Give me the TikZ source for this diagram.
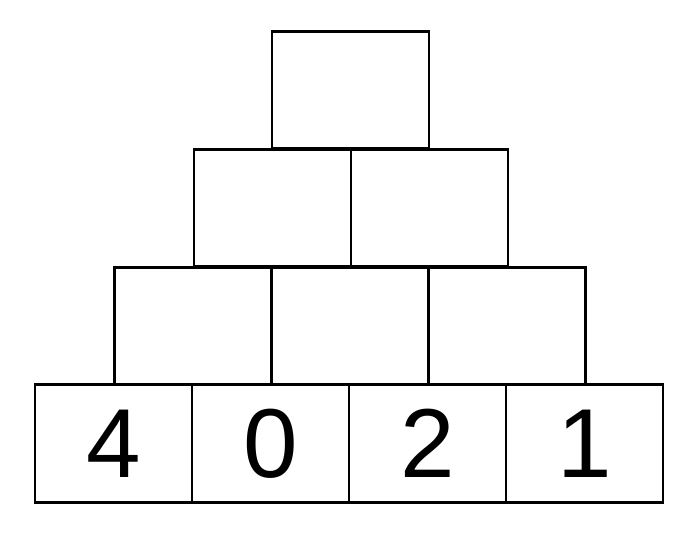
\documentclass[tikz,border=0pt]{standalone}
\usepackage{fontspec}
\setmainfont{Liberation Sans}

\tikzset{
  feld/.style={draw, line width=2.7pt, rectangle, minimum width=157pt, minimum height=117.5pt, inner sep=0pt, outer sep=0pt, font=\fontsize{98}{98}\selectfont}
}

\begin{document}
\begin{tikzpicture}[x=1pt, y=-1pt]
	\useasboundingbox (0, 0) rectangle (699, 535);
	% Unterste Reihe
	\node [feld] (u1) at (113.5, 443.5) {4};
	\node [feld] (u2) at (270.5, 443.5) {0};
	\node [feld] (u3) at (427.5, 443.5) {2};
	\node [feld] (u4) at (584.5, 443.5) {1};
	% Dritte Reihe
	\node [feld] (d1) at (193, 326) {};
	\node [feld] (d2) at (350, 326) {};
	\node [feld] (d3) at (507, 326) {};
	% Zweite Reihe
	\node [feld] (z1) at (272.5, 208) {};
	\node [feld] (z2) at (429.5, 208) {};
	% Spitze
	\node [feld] (s) at (350.5, 90) {};
\end{tikzpicture}
\end{document}
